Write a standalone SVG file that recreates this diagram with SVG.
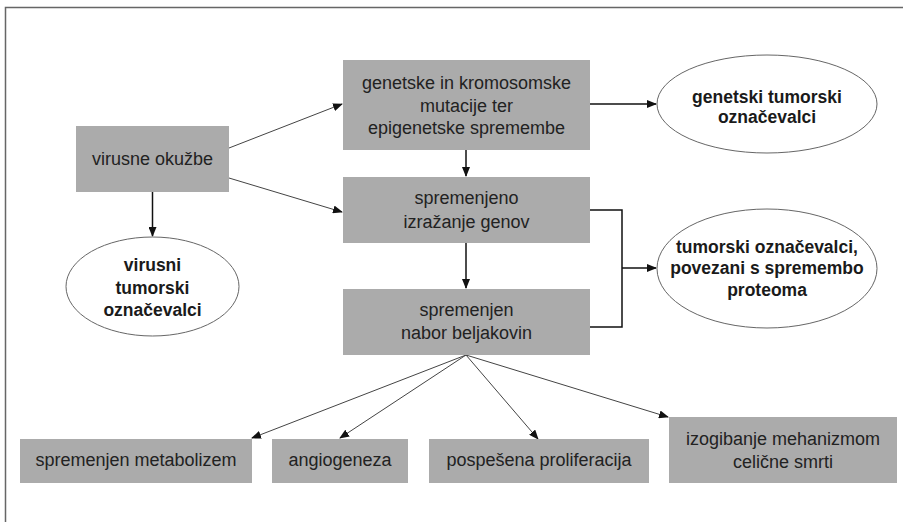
<svg xmlns="http://www.w3.org/2000/svg" width="903" height="522" viewBox="0 0 903 522">
<style>
.box{fill:#ababab}
.ell{fill:#fff;stroke:#666;stroke-width:1}
.t{font-family:"Liberation Sans",Arial,sans-serif;font-size:18px;fill:#222;text-anchor:middle}
.b{font-family:"Liberation Sans",Arial,sans-serif;font-size:17.5px;font-weight:bold;fill:#1a1a1a;text-anchor:middle}
.thin{fill:none;stroke:#444;stroke-width:1}
.thick{fill:none;stroke:#111;stroke-width:1.5}
</style>
<defs>
<marker id="ah" markerUnits="userSpaceOnUse" markerWidth="10" markerHeight="8" refX="9" refY="4" orient="auto">
<path d="M0,0 L10,4 L0,8 Z" fill="#111"/>
</marker>
</defs>
<rect x="0" y="0" width="903" height="522" fill="#fff"/>
<path d="M5.5,522 V7.5 H903" fill="none" stroke="#666" stroke-width="1.5"/>
<g id="connectors">
<line class="thin" x1="229" y1="148" x2="342" y2="104" marker-end="url(#ah)"/>
<line class="thin" x1="229" y1="178" x2="342" y2="212" marker-end="url(#ah)"/>
<line class="thick" x1="152.5" y1="192" x2="152.5" y2="236" marker-end="url(#ah)"/>
<line class="thick" x1="466" y1="150" x2="466" y2="176" marker-end="url(#ah)"/>
<line class="thick" x1="590" y1="104" x2="656" y2="104" marker-end="url(#ah)"/>
<line class="thick" x1="466" y1="243" x2="466" y2="288" marker-end="url(#ah)"/>
<path class="thick" d="M590,210 H622 V327 H590"/>
<line class="thick" x1="622" y1="268" x2="656" y2="268" marker-end="url(#ah)"/>
<line class="thin" x1="466" y1="355" x2="252" y2="438" marker-end="url(#ah)"/>
<line class="thin" x1="466" y1="355" x2="340" y2="438" marker-end="url(#ah)"/>
<line class="thin" x1="466" y1="355" x2="538" y2="439" marker-end="url(#ah)"/>
<line class="thin" x1="466" y1="355" x2="668" y2="417" marker-end="url(#ah)"/>
</g>
<g id="virusne">
<rect class="box" x="76" y="126" width="153" height="66"/>
<text class="t" x="152.5" y="165">virusne okužbe</text>
</g>
<g id="genetske">
<rect class="box" x="343" y="60" width="247" height="90"/>
<text class="t" x="466.5" y="89">genetske in kromosomske</text>
<text class="t" x="466.5" y="112">mutacije ter</text>
<text class="t" x="466.5" y="134">epigenetske spremembe</text>
</g>
<g id="spremenjeno">
<rect class="box" x="343" y="177" width="247" height="66"/>
<text class="t" x="466.5" y="204">spremenjeno</text>
<text class="t" x="466.5" y="228">izražanje genov</text>
</g>
<g id="nabor">
<rect class="box" x="343" y="289" width="247" height="66"/>
<text class="t" x="466.5" y="316">spremenjen</text>
<text class="t" x="466.5" y="339">nabor beljakovin</text>
</g>
<g id="genetski-oz">
<ellipse class="ell" cx="767" cy="104" rx="110" ry="49"/>
<text class="b" x="767" y="103">genetski tumorski</text>
<text class="b" x="767" y="123">označevalci</text>
</g>
<g id="proteom-oz">
<ellipse class="ell" cx="767" cy="268.5" rx="110" ry="59.5"/>
<text class="b" x="767" y="253">tumorski označevalci,</text>
<text class="b" x="767" y="274">povezani s spremembo</text>
<text class="b" x="767" y="296">proteoma</text>
</g>
<g id="virusni-oz">
<ellipse class="ell" cx="152.5" cy="286.5" rx="86.5" ry="49.5"/>
<text class="b" x="152.5" y="271">virusni</text>
<text class="b" x="152.5" y="294">tumorski</text>
<text class="b" x="152.5" y="316">označevalci</text>
</g>
<g id="metabolizem">
<rect class="box" x="20" y="439" width="232" height="44"/>
<text class="t" x="136" y="466">spremenjen metabolizem</text>
</g>
<g id="angiogeneza">
<rect class="box" x="272" y="439" width="136" height="44"/>
<text class="t" x="340" y="466">angiogeneza</text>
</g>
<g id="proliferacija">
<rect class="box" x="429" y="439" width="220" height="44"/>
<text class="t" x="539" y="466">pospešena proliferacija</text>
</g>
<g id="izogibanje">
<rect class="box" x="669" y="417" width="228" height="66"/>
<text class="t" x="783" y="445">izogibanje mehanizmom</text>
<text class="t" x="783" y="468">celične smrti</text>
</g>
</svg>
